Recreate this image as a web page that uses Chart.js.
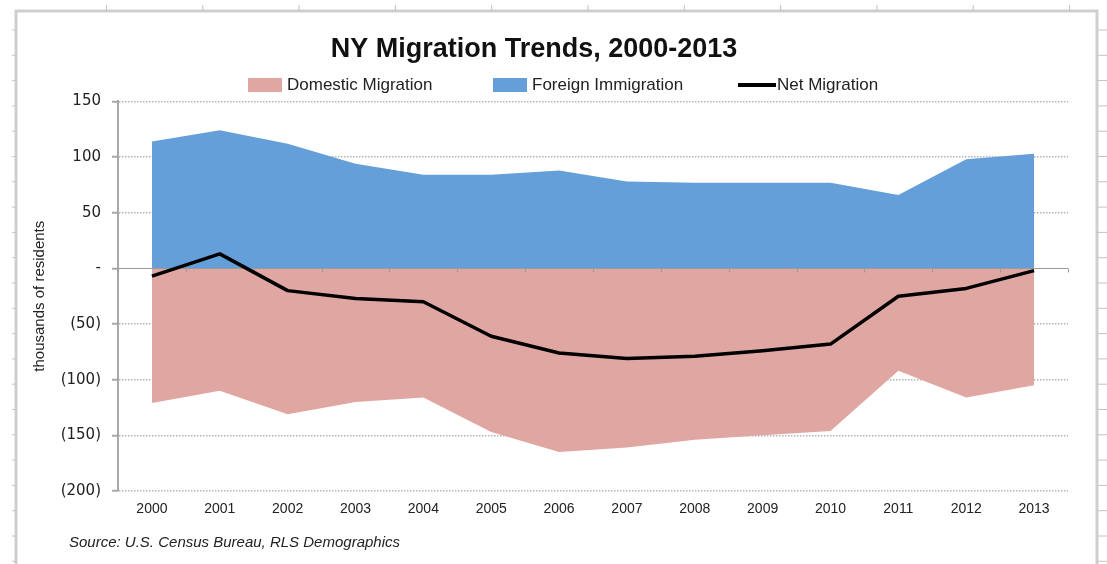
<!DOCTYPE html>
<html>
<head>
<meta charset="utf-8">
<script src="https://cdn.jsdelivr.net/npm/chart.js@4.4.1/dist/chart.umd.min.js"></script>
<style>
  html, body { margin: 0; padding: 0; background: #fff; }
  #wrap { width: 1107px; height: 564px; position: relative; }
</style>
</head>
<body>
<div id="wrap"><canvas id="migrationChart"></canvas></div>
<script>
// NY migration chart, 2000-2013 (thousands of residents)

const years = ['2000', '2001', '2002', '2003', '2004', '2005', '2006',
               '2007', '2008', '2009', '2010', '2011', '2012', '2013'];
const domestic = [-121, -110, -131, -120, -116, -147, -165, -161, -154, -150, -146, -92, -116, -105];
const foreign = [114, 124, 112, 94, 84, 84, 88, 78, 77, 77, 77, 66, 98, 103];
const net = [-7, 13, -20, -27, -30, -61, -76, -81, -79, -74, -68, -25, -18, -2];
const yTicks = [150, 100, 50, 0, -50, -100, -150, -200];

const narrow = '"Liberation Sans Narrow", "Liberation Sans", Arial, sans-serif';

const fmtTick = (v) => {
    if (v === 0) return '-';
    if (v < 0) return '(' + (-v) + ')';
    return String(v);
};

// spreadsheet frame around the chart object
const framePlugin = {
    id: 'frame',
    beforeDraw(chart) {
        const ctx = chart.ctx;
        ctx.save();
        ctx.strokeStyle = '#cfcfcf';
        ctx.lineWidth = 3;
        ctx.beginPath();
        ctx.moveTo(16, 564);
        ctx.lineTo(16, 11);
        ctx.lineTo(1097, 11);
        ctx.lineTo(1097, 564);
        ctx.stroke();
        ctx.lineWidth = 1;
        ctx.strokeStyle = '#c4c4c4';
        ctx.beginPath();
        for (let y = 30; y < 564; y += 25.3) {
            ctx.moveTo(12, y); ctx.lineTo(16, y);
            ctx.moveTo(1097, y); ctx.lineTo(1107, y);
        }
        for (let x = 106.5; x < 1100; x += 96.3) {
            ctx.moveTo(x, 5); ctx.lineTo(x, 11);
        }
        ctx.stroke();
        ctx.restore();
    },
    afterDatasetDraw(chart, args) {
        // solid zero line with category ticks, drawn above the areas and under the net line
        if (args.index !== 0) return;
        const ctx = chart.ctx;
        const y0 = Math.round(chart.scales.y.getPixelForValue(0)) + 0.5;
        const area = chart.chartArea;
        ctx.save();
        ctx.strokeStyle = '#9a9a9a';
        ctx.lineWidth = 1;
        ctx.beginPath();
        ctx.moveTo(area.left, y0);
        ctx.lineTo(area.right, y0);
        for (let i = 0; i <= years.length; i++) {
            const x = Math.round(area.left + (area.right - area.left) * i / years.length) + 0.5;
            ctx.moveTo(x, y0);
            ctx.lineTo(x, y0 + 4);
        }
        ctx.stroke();
        ctx.restore();
    },
    afterDraw(chart) {
        const ctx = chart.ctx;
        ctx.save();
        // legend
        const items = [
            { ds: chart.data.datasets[0], x: 248, type: 'box' },
            { ds: chart.data.datasets[1], x: 493, type: 'box' },
            { ds: chart.data.datasets[2], x: 738, type: 'line' }
        ];
        const ly = 85;
        ctx.font = '17px ' + narrow;
        ctx.textBaseline = 'middle';
        ctx.textAlign = 'left';
        items.forEach(it => {
            if (it.type === 'box') {
                ctx.fillStyle = it.ds.backgroundColor;
                ctx.fillRect(it.x, ly - 7, 34, 14);
            } else {
                ctx.strokeStyle = '#000';
                ctx.lineWidth = 4;
                ctx.beginPath();
                ctx.moveTo(it.x, ly);
                ctx.lineTo(it.x + 38, ly);
                ctx.stroke();
            }
            ctx.fillStyle = '#222';
            ctx.fillText(it.ds.label, it.x + 39, ly);
        });
        // source note
        ctx.font = 'italic 15px ' + narrow;
        ctx.fillStyle = '#222';
        ctx.fillText('Source: U.S. Census Bureau, RLS Demographics', 69, 543);
        ctx.restore();
    }
};

const data = {
    labels: years,
    datasets: [
        {
            label: 'Domestic Migration',
            data: domestic,
            backgroundColor: '#e0a6a2',
            borderWidth: 0,
            pointRadius: 0,
            fill: 'origin',
            order: 1
        },
        {
            label: 'Foreign Immigration',
            data: foreign,
            backgroundColor: '#659fda',
            borderWidth: 0,
            pointRadius: 0,
            fill: 'origin',
            order: 2
        },
        {
            label: 'Net Migration',
            data: net,
            borderColor: '#000',
            backgroundColor: '#000',
            borderWidth: 3.5,
            borderJoinStyle: 'round',
            pointRadius: 0,
            fill: false,
            order: 0
        }
    ]
};

const config = {
    type: 'line',
    data: data,
    options: {
        responsive: true,
        maintainAspectRatio: false,
        animation: false,
        layout: { padding: { left: 0, right: 39, top: 0, bottom: 0 } },
        plugins: {
            legend: { display: false },
            tooltip: { enabled: false },
            title: {
                display: true,
                text: 'NY Migration Trends, 2000-2013',
                color: '#111',
                font: { family: narrow, size: 27, weight: 'bold' },
                padding: { top: 33, bottom: 36 }
            }
        },
        scales: {
            x: {
                offset: true,
                grid: { display: false, drawTicks: false },
                border: { display: false },
                ticks: {
                    color: '#222',
                    font: { family: narrow, size: 14 },
                    padding: 10,
                    maxRotation: 0
                },
                afterFit(scale) { scale.height = 73; }
            },
            y: {
                min: -200,
                max: 150,
                afterBuildTicks(scale) {
                    scale.ticks = yTicks.map(v => ({ value: v }));
                },
                grid: {
                    color: (c) => c.tick && c.tick.value === 0 ? 'rgba(0,0,0,0)' : '#b4b4b4',
                    lineWidth: 1.5,
                    tickColor: '#a8a8a8',
                    tickLength: 6,
                    tickWidth: 2
                },
                border: { display: true, color: '#a8a8a8', width: 2, dash: [1.5, 1.5] },
                ticks: {
                    color: '#222',
                    font: { family: '"DejaVu Sans", Verdana, sans-serif', size: 15 },
                    padding: 11,
                    callback: (v) => fmtTick(v)
                },
                title: {
                    display: true,
                    text: 'thousands of residents',
                    color: '#222',
                    font: { family: '"Liberation Sans", Arial, sans-serif', size: 15 },
                    padding: { top: 31, bottom: 0 }
                },
                afterFit(scale) { scale.width = 118; }
            }
        }
    },
    plugins: [framePlugin]
};

new Chart(document.getElementById('migrationChart'), config);
</script>
</body>
</html>
